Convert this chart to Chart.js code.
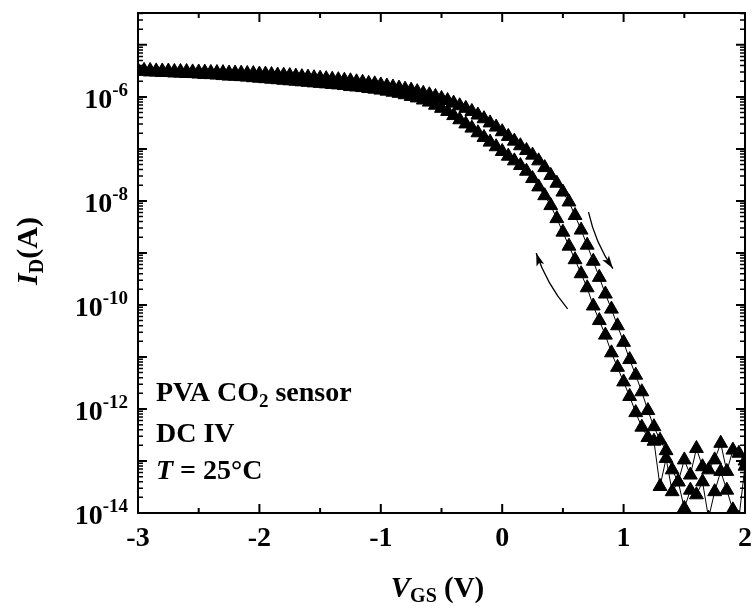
<!DOCTYPE html>
<html>
<head>
<meta charset="utf-8">
<style>
  html, body { margin: 0; padding: 0; background: #fff; }
</style>
<script src="https://cdn.jsdelivr.net/npm/chart.js@4.4.1/dist/chart.umd.min.js"></script>
</head>
<body>
<canvas id="chart" width="754" height="609"></canvas>
<script>
// gate voltage steps (V)
const vgs = [
  -3.00, -2.95, -2.90, -2.85, -2.80, -2.75, -2.70, -2.65, -2.60, -2.55,
  -2.50, -2.45, -2.40, -2.35, -2.30, -2.25, -2.20, -2.15, -2.10, -2.05,
  -2.00, -1.95, -1.90, -1.85, -1.80, -1.75, -1.70, -1.65, -1.60, -1.55,
  -1.50, -1.45, -1.40, -1.35, -1.30, -1.25, -1.20, -1.15, -1.10, -1.05,
  -1.00, -0.95, -0.90, -0.85, -0.80, -0.75, -0.70, -0.65, -0.60, -0.55,
  -0.50, -0.45, -0.40, -0.35, -0.30, -0.25, -0.20, -0.15, -0.10, -0.05,
  0.00, 0.05, 0.10, 0.15, 0.20, 0.25, 0.30, 0.35, 0.40, 0.45,
  0.50, 0.55, 0.60, 0.65, 0.70, 0.75, 0.80, 0.85, 0.90, 0.95,
  1.00, 1.05, 1.10, 1.15, 1.20, 1.25, 1.30, 1.35, 1.40, 1.45,
  1.50, 1.55, 1.60, 1.65, 1.70, 1.75, 1.80, 1.85, 1.90, 1.95,
  2.00
];

// forward sweep -3 V -> 2 V (A)
const idForward = [
  3.24e-6, 3.23e-6, 3.22e-6, 3.16e-6, 3.15e-6, 3.14e-6, 3.09e-6, 3.08e-6, 3.07e-6, 3.02e-6,
  3.01e-6, 3.00e-6, 2.95e-6, 2.94e-6, 2.93e-6, 2.88e-6, 2.87e-6, 2.86e-6, 2.82e-6, 2.81e-6,
  2.75e-6, 2.74e-6, 2.69e-6, 2.63e-6, 2.62e-6, 2.57e-6, 2.51e-6, 2.45e-6, 2.40e-6, 2.34e-6,
  2.29e-6, 2.24e-6, 2.19e-6, 2.14e-6, 2.09e-6, 2.04e-6, 1.95e-6, 1.91e-6, 1.82e-6, 1.78e-6,
  1.70e-6, 1.62e-6, 1.55e-6, 1.48e-6, 1.41e-6, 1.35e-6, 1.26e-6, 1.17e-6, 1.10e-6, 1.02e-6,
  9.33e-7, 8.51e-7, 7.59e-7, 6.76e-7, 6.03e-7, 5.25e-7, 4.47e-7, 3.80e-7, 3.16e-7, 2.63e-7,
  2.14e-7, 1.74e-7, 1.41e-7, 1.15e-7, 9.33e-8, 7.59e-8, 5.89e-8, 4.37e-8, 3.09e-8, 2.19e-8,
  1.48e-8, 9.55e-9, 5.25e-9, 2.75e-9, 1.41e-9, 6.92e-10, 3.39e-10, 1.62e-10, 8.32e-11, 3.98e-11,
  1.91e-11, 8.91e-12, 4.47e-12, 2.14e-12, 9.33e-13, 4.57e-13, 2.51e-13, 1.58e-13, 6.76e-14, 3.98e-14,
  1.05e-13, 5.37e-14, 1.74e-13, 7.76e-14, 6.76e-14, 1.05e-13, 2.19e-13, 6.31e-14, 1.62e-13, 1.41e-13,
  1.00e-13
];

// reverse sweep 2 V -> -3 V, listed here in the same vgs order (A)
const idBackward = [
  3.09e-6, 3.08e-6, 3.02e-6, 3.01e-6, 2.95e-6, 2.94e-6, 2.88e-6, 2.87e-6, 2.82e-6, 2.81e-6,
  2.75e-6, 2.69e-6, 2.68e-6, 2.63e-6, 2.57e-6, 2.51e-6, 2.50e-6, 2.45e-6, 2.40e-6, 2.34e-6,
  2.29e-6, 2.24e-6, 2.19e-6, 2.14e-6, 2.09e-6, 2.04e-6, 2.00e-6, 1.95e-6, 1.91e-6, 1.86e-6,
  1.82e-6, 1.78e-6, 1.74e-6, 1.70e-6, 1.66e-6, 1.58e-6, 1.55e-6, 1.51e-6, 1.45e-6, 1.41e-6,
  1.35e-6, 1.29e-6, 1.23e-6, 1.17e-6, 1.10e-6, 1.02e-6, 9.55e-7, 8.71e-7, 7.94e-7, 6.92e-7,
  6.03e-7, 5.25e-7, 4.37e-7, 3.63e-7, 3.02e-7, 2.51e-7, 2.04e-7, 1.66e-7, 1.35e-7, 1.10e-7,
  8.91e-8, 7.24e-8, 5.89e-8, 4.79e-8, 3.72e-8, 2.69e-8, 1.86e-8, 1.26e-8, 8.13e-9, 4.57e-9,
  2.51e-9, 1.35e-9, 7.41e-10, 3.98e-10, 2.14e-10, 9.55e-11, 5.01e-11, 2.63e-11, 1.20e-11, 6.31e-12,
  3.31e-12, 1.74e-12, 8.51e-13, 4.47e-13, 2.82e-13, 2.40e-13, 3.24e-14, 1.12e-13, 2.57e-14, 3.98e-14,
  1.23e-14, 2.75e-14, 2.24e-14, 3.98e-14, 7.94e-15, 2.57e-14, 6.31e-14, 2.75e-14, 1.15e-14, 7.94e-15,
  7.94e-14
];

const xTickLabels = [-3, -2, -1, 0, 1, 2];
const yTickExponents = [-14, -12, -10, -8, -6];

const FONT = '"Liberation Serif", "Times New Roman", serif';

function fontOf(p) {
  return (p.i ? 'italic ' : '') + 'bold ' + p.s + 'px ' + FONT;
}

// draw a row of text pieces (for sub/superscripts)
function drawRuns(ctx, x, y, parts, align) {
  let w = 0;
  parts.forEach(p => { ctx.font = fontOf(p); p.w = ctx.measureText(p.t).width; w += p.w; });
  let cx = align === 'right' ? x - w : align === 'center' ? x - w / 2 : x;
  parts.forEach(p => {
    ctx.font = fontOf(p);
    ctx.fillText(p.t, cx, y + (p.dy || 0));
    cx += p.w;
  });
}

function drawArrow(ctx, s, e, bend) {
  const dx = e.x - s.x, dy = e.y - s.y;
  const len = Math.hypot(dx, dy);
  const nx = -dy / len, ny = dx / len;
  const c = { x: (s.x + e.x) / 2 + nx * bend, y: (s.y + e.y) / 2 + ny * bend };
  ctx.beginPath();
  ctx.moveTo(s.x, s.y);
  ctx.quadraticCurveTo(c.x, c.y, e.x, e.y);
  ctx.lineWidth = 1.3;
  ctx.stroke();
  const ax = e.x - c.x, ay = e.y - c.y, al = Math.hypot(ax, ay);
  const ux = ax / al, uy = ay / al;
  ctx.beginPath();
  ctx.moveTo(e.x, e.y);
  ctx.lineTo(e.x - ux * 13 - uy * 4, e.y - uy * 13 + ux * 4);
  ctx.lineTo(e.x - ux * 10, e.y - uy * 10);
  ctx.lineTo(e.x - ux * 13 + uy * 4, e.y - uy * 13 - ux * 4);
  ctx.closePath();
  ctx.fill();
}

const framePlugin = {
  id: 'frame',
  beforeDraw(chart) {
    const ctx = chart.ctx;
    ctx.save();
    ctx.fillStyle = '#fff';
    ctx.fillRect(0, 0, chart.width, chart.height);
    ctx.restore();
  },
  afterDraw(chart) {
    const { ctx, chartArea: a, scales: { x, y } } = chart;
    ctx.save();
    ctx.strokeStyle = '#000';
    ctx.fillStyle = '#000';

    // x ticks, every 0.5 V, inward on bottom and top
    for (let k = -6; k <= 4; k++) {
      const px = x.getPixelForValue(k / 2);
      const len = k % 2 === 0 ? 9 : 5;
      ctx.lineWidth = 2;
      ctx.beginPath();
      ctx.moveTo(px, a.bottom); ctx.lineTo(px, a.bottom - len);
      ctx.moveTo(px, a.top); ctx.lineTo(px, a.top + len);
      ctx.stroke();
    }
    // y ticks, log decades with minor 2..9
    for (let e = -14; e <= -5; e++) {
      for (let m = 1; m <= 9; m++) {
        const v = m * Math.pow(10, e);
        if (v > y.max) break;
        const py = y.getPixelForValue(v);
        const len = m === 1 ? 9 : 5;
        ctx.lineWidth = m === 1 ? 2 : 1.5;
        ctx.beginPath();
        ctx.moveTo(a.left, py); ctx.lineTo(a.left + len, py);
        ctx.moveTo(a.right, py); ctx.lineTo(a.right - len, py);
        ctx.stroke();
      }
    }
    // frame
    ctx.lineWidth = 2;
    ctx.strokeRect(a.left, a.top, a.right - a.left, a.bottom - a.top);

    // tick labels
    ctx.textBaseline = 'alphabetic';
    xTickLabels.forEach(v => {
      drawRuns(ctx, x.getPixelForValue(v), 546, [{ t: String(v), s: 28 }], 'center');
    });
    yTickExponents.forEach(e => {
      const py = y.getPixelForValue(Math.pow(10, e));
      drawRuns(ctx, a.left - 10, py + 11, [{ t: '10', s: 28 }, { t: String(e), s: 19, dy: -12 }], 'right');
    });

    // axis titles
    drawRuns(ctx, (a.left + a.right) / 2 - 4, 597,
      [{ t: 'V', s: 29, i: 1 }, { t: 'GS', s: 20, dy: 5 }, { t: ' (V)', s: 29 }], 'center');
    ctx.save();
    ctx.translate(37, 251);
    ctx.rotate(-Math.PI / 2);
    drawRuns(ctx, 0, 0, [{ t: 'I', s: 30, i: 1 }, { t: 'D', s: 20, dy: 6 }, { t: '(A)', s: 30 }], 'center');
    ctx.restore();

    // legend text
    drawRuns(ctx, a.left + 18, 401, [{ t: 'PVA CO', s: 28 }, { t: '2', s: 19, dy: 6 }, { t: ' sensor', s: 28 }]);
    drawRuns(ctx, a.left + 18, 442, [{ t: 'DC IV', s: 28 }]);
    drawRuns(ctx, a.left + 18, 479, [{ t: 'T', s: 28, i: 1 }, { t: ' = 25°C', s: 28 }]);

    // sweep direction arrows
    const P = (v, i) => ({ x: x.getPixelForValue(v), y: y.getPixelForValue(i) });
    drawArrow(ctx, P(0.711, 6.1e-9), P(0.912, 5.0e-10), 6);
    drawArrow(ctx, P(0.539, 8.4e-11), P(0.280, 1.0e-9), -6);

    ctx.restore();
  }
};

const pointsOf = arr => vgs.map((v, i) => ({ x: v, y: arr[i] }));

const seriesStyle = {
  showLine: true,
  borderColor: '#000',
  borderWidth: 1,
  pointStyle: 'triangle',
  pointRadius: 8,
  pointBackgroundColor: '#000',
  pointBorderColor: '#000',
  pointBorderWidth: 1,
  tension: 0,
  clip: 0
};

new Chart(document.getElementById('chart'), {
  type: 'scatter',
  data: {
    datasets: [
      Object.assign({ label: 'forward', data: pointsOf(idForward) }, seriesStyle),
      Object.assign({ label: 'reverse', data: pointsOf(idBackward).reverse() }, seriesStyle)
    ]
  },
  options: {
    responsive: false,
    devicePixelRatio: 1,
    animation: false,
    layout: { padding: { top: 13, right: 7, left: 0, bottom: 0 } },
    plugins: { legend: { display: false }, tooltip: { enabled: false } },
    scales: {
      x: {
        type: 'linear', min: -3, max: 2,
        grid: { display: false }, border: { display: false },
        ticks: { display: false },
        afterFit: s => { s.height = 96; }
      },
      y: {
        type: 'logarithmic', min: 1e-14, max: 4.1e-5,
        grid: { display: false }, border: { display: false },
        ticks: { display: false },
        afterFit: s => { s.width = 138; }
      }
    }
  },
  plugins: [framePlugin]
});
</script>
</body>
</html>
